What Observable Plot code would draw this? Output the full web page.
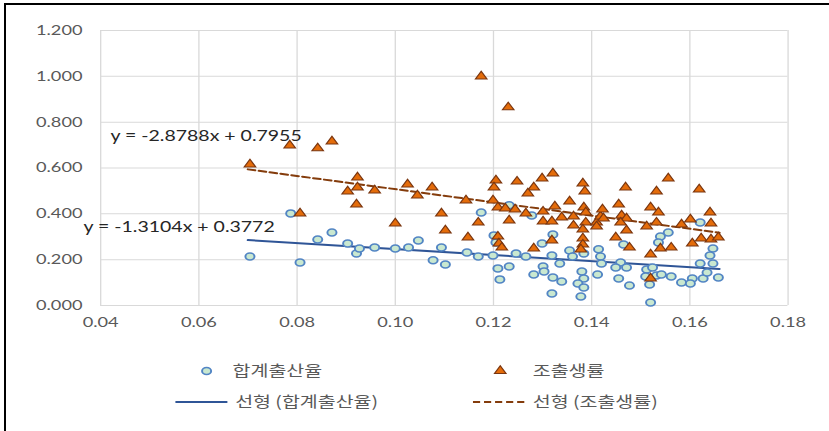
<!DOCTYPE html>
<html>
<head>
<meta charset="utf-8">
<script src="https://cdn.jsdelivr.net/npm/d3@7"></script>
<script src="https://cdn.jsdelivr.net/npm/@observablehq/plot@0.6"></script>
<style>
  html, body { margin: 0; padding: 0; background: #fff; overflow: hidden; width: 829px; height: 431px; }
  #frame { position: absolute; left: 4px; top: 3px; width: 825px; height: 428px;
           border-top: 2px solid #000; border-left: 2px solid #000; box-sizing: border-box; }
  #chart { position: absolute; left: 0; top: 0; width: 638px; transform-origin: 0 0; }
  #chart svg { display: block; }
</style>
</head>
<body>
<div id="frame"></div>
<div id="chart"></div>
<script>
// 합계출산율 (circles): [x, rate]
const tfrPoints = [
  [0.0787,0.402],[0.0704,0.214],[0.0806,0.188],[0.0842,0.288],[0.0871,0.319],[0.0903,0.271],
  [0.0921,0.227],[0.0927,0.249],[0.0958,0.253],[0.1000,0.249],[0.1027,0.253],[0.1047,0.284],
  [0.1094,0.253],[0.1077,0.197],[0.1102,0.179],[0.1146,0.231],[0.1169,0.214],[0.1175,0.406],
  [0.1199,0.218],[0.1201,0.306],[0.1205,0.275],[0.1232,0.437],[0.1278,0.393],[0.1209,0.162],
  [0.1232,0.170],[0.1213,0.114],[0.1246,0.227],[0.1266,0.214],[0.1282,0.135],[0.1301,0.170],
  [0.1303,0.148],[0.1319,0.052],[0.1299,0.271],[0.1321,0.310],[0.1319,0.218],[0.1321,0.122],
  [0.1339,0.105],[0.1335,0.183],[0.1355,0.240],[0.1361,0.214],[0.1384,0.227],[0.1414,0.245],
  [0.1418,0.214],[0.1420,0.183],[0.1380,0.148],[0.1384,0.118],[0.1372,0.096],[0.1384,0.079],
  [0.1378,0.039],[0.1556,0.319],[0.1540,0.301],[0.1536,0.275],[0.1621,0.362],[0.1465,0.266],
  [0.1647,0.249],[0.1641,0.218],[0.1647,0.183],[0.1621,0.183],[0.1459,0.188],[0.1449,0.166],
  [0.1471,0.166],[0.1512,0.157],[0.1524,0.166],[0.1510,0.127],[0.1532,0.131],[0.1542,0.135],
  [0.1562,0.127],[0.1583,0.100],[0.1605,0.118],[0.1601,0.096],[0.1627,0.118],[0.1658,0.122],
  [0.1635,0.144],[0.1455,0.118],[0.1477,0.087],[0.1518,0.092],[0.1520,0.013],[0.1412,0.135]
];

// 조출생률 (triangles): [x, rate]
const cbrPoints = [
  [0.0704,0.616],[0.0785,0.699],[0.0842,0.686],[0.0871,0.716],[0.0923,0.559],[0.0923,0.515],
  [0.0903,0.498],[0.0921,0.441],[0.0958,0.502],[0.1025,0.528],[0.1045,0.480],[0.1075,0.515],
  [0.1144,0.459],[0.0806,0.402],[0.1000,0.358],[0.1094,0.402],[0.1102,0.328],[0.1169,0.362],
  [0.1148,0.297],[0.1175,1.000],[0.1230,0.865],[0.1205,0.546],[0.1201,0.515],[0.1248,0.541],
  [0.1299,0.555],[0.1321,0.576],[0.1282,0.515],[0.1270,0.489],[0.1382,0.533],[0.1386,0.498],
  [0.1355,0.454],[0.1199,0.459],[0.1209,0.428],[0.1224,0.424],[0.1244,0.419],[0.1266,0.402],
  [0.1232,0.371],[0.1301,0.410],[0.1325,0.432],[0.1301,0.367],[0.1319,0.367],[0.1339,0.384],
  [0.1363,0.389],[0.1363,0.349],[0.1384,0.428],[0.1388,0.406],[0.1388,0.362],[0.1382,0.332],
  [0.1382,0.293],[0.1382,0.266],[0.1378,0.245],[0.1410,0.362],[0.1418,0.389],[0.1422,0.419],
  [0.1410,0.345],[0.1209,0.301],[0.1211,0.271],[0.1217,0.253],[0.1319,0.284],[0.1282,0.249],
  [0.1469,0.515],[0.1556,0.555],[0.1532,0.498],[0.1619,0.507],[0.1455,0.441],[0.1424,0.380],
  [0.1520,0.428],[0.1536,0.406],[0.1461,0.393],[0.1471,0.380],[0.1459,0.362],[0.1512,0.345],
  [0.1532,0.362],[0.1583,0.354],[0.1601,0.376],[0.1641,0.406],[0.1643,0.358],[0.1471,0.328],
  [0.1449,0.297],[0.1477,0.253],[0.1540,0.249],[0.1562,0.253],[0.1605,0.271],[0.1623,0.293],
  [0.1643,0.288],[0.1658,0.297],[0.1520,0.223],[0.1520,0.118]
];

// Linear trend lines: y = slope * x + intercept, over the span of the data
const trendNames = ["선형 (합계출산율)", "선형 (조출생률)"];
const trendSlope = [-1.3104, -2.8788];
const trendIntercept = [0.3772, 0.7955];
const trendSpan = [0.070, 0.166];
const trendLabelAt = [[0.0365, 0.341], [0.0420, 0.738]];

const seriesNames = ["합계출산율", "조출생률"];
const xTicks = [0.04, 0.06, 0.08, 0.10, 0.12, 0.14, 0.16, 0.18];
const yTicks = [0, 0.2, 0.4, 0.6, 0.8, 1.0, 1.2];

const colors = {
  tfrFill: "#c9e8d0", tfrStroke: "#5285c4", tfrLine: "#2f5597",
  cbrFill: "#e46c0a", cbrStroke: "#7a3610", cbrLine: "#843c0c",
  grid: "#d9d9d9", tick: "#595959", eq: "#262626"
};

const W = 638;
const stretch = 829 / W;
const dotR = 3.5, triR = 3.3;

const trendLines = trendSlope.map((m, i) =>
  trendSpan.map(x => ({x, y: m * x + trendIntercept[i], series: i})));
const trendLabels = trendSlope.map((m, i) => ({
  x: trendLabelAt[i][0], y: trendLabelAt[i][1],
  text: `y = ${m.toFixed(4)}x + ${trendIntercept[i].toFixed(4)}`
}));

const plot = Plot.plot({
  width: W,
  height: 335,
  marginTop: 30,
  marginBottom: 30,
  marginLeft: 77,
  marginRight: 32,
  style: {fontFamily: "Lato", fontSize: "14px", color: colors.tick, background: "transparent"},
  x: {domain: [0.04, 0.18], ticks: xTicks, tickFormat: d3.format(".2f"), tickSize: 0, tickPadding: 12, label: null},
  y: {domain: [0, 1.2], ticks: yTicks, tickFormat: d3.format(".3f"), tickSize: 0, tickPadding: 14, label: null},
  marks: [
    Plot.ruleX(xTicks, {stroke: colors.grid, strokeWidth: 1}),
    Plot.ruleY(yTicks, {stroke: colors.grid, strokeWidth: 1}),
    Plot.line(trendLines[0], {x: "x", y: "y", stroke: colors.tfrLine, strokeWidth: 2}),
    Plot.line(trendLines[1], {x: "x", y: "y", stroke: colors.cbrLine, strokeWidth: 2, strokeDasharray: "5.5,3"}),
    Plot.dot(tfrPoints, {x: d => d[0], y: d => d[1], r: dotR, fill: colors.tfrFill, stroke: colors.tfrStroke, strokeWidth: 1.5}),
    Plot.dot(cbrPoints, {x: d => d[0], y: d => d[1], r: triR, symbol: "triangle", fill: colors.cbrFill, stroke: colors.cbrStroke, strokeWidth: 1}),
    Plot.text(trendLabels, {x: "x", y: "y", text: "text", textAnchor: "start", lineAnchor: "middle",
      fill: colors.eq, fontSize: 15, fontFamily: "Lato"})
  ]
});

const chart = document.getElementById("chart");
chart.style.transform = `scaleX(${stretch})`;
chart.appendChild(plot);

// Legend below the plot: two rows, marker swatches on top, trend lines underneath
const legend = d3.create("svg")
  .attr("width", W)
  .attr("height", 96)
  .style("font-family", "'Noto Sans CJK KR', 'Noto Sans', sans-serif")
  .style("font-size", "15px");

const row1 = 36, row2 = 67;
legend.append("circle")
  .attr("cx", 159).attr("cy", row1).attr("r", dotR)
  .attr("fill", colors.tfrFill).attr("stroke", colors.tfrStroke).attr("stroke-width", 1.5);
legend.append("text").attr("x", 179).attr("y", row1).attr("dy", "0.36em")
  .attr("fill", colors.tick).text(seriesNames[0]);

legend.append("path")
  .attr("transform", `translate(385,${row1})`)
  .attr("d", d3.symbol(d3.symbolTriangle, Math.PI * triR * triR)())
  .attr("fill", colors.cbrFill).attr("stroke", colors.cbrStroke).attr("stroke-width", 1);
legend.append("text").attr("x", 410).attr("y", row1).attr("dy", "0.36em")
  .attr("fill", colors.tick).text(seriesNames[1]);

legend.append("line")
  .attr("x1", 135).attr("x2", 175).attr("y1", row2).attr("y2", row2)
  .attr("stroke", colors.tfrLine).attr("stroke-width", 2);
legend.append("text").attr("x", 181).attr("y", row2).attr("dy", "0.36em")
  .attr("fill", colors.tick).text(trendNames[0]);

legend.append("line")
  .attr("x1", 364).attr("x2", 406).attr("y1", row2).attr("y2", row2)
  .attr("stroke", colors.cbrLine).attr("stroke-width", 2).attr("stroke-dasharray", "5.5,3");
legend.append("text").attr("x", 410).attr("y", row2).attr("dy", "0.36em")
  .attr("fill", colors.tick).text(trendNames[1]);

chart.appendChild(legend.node());
</script>
</body>
</html>
